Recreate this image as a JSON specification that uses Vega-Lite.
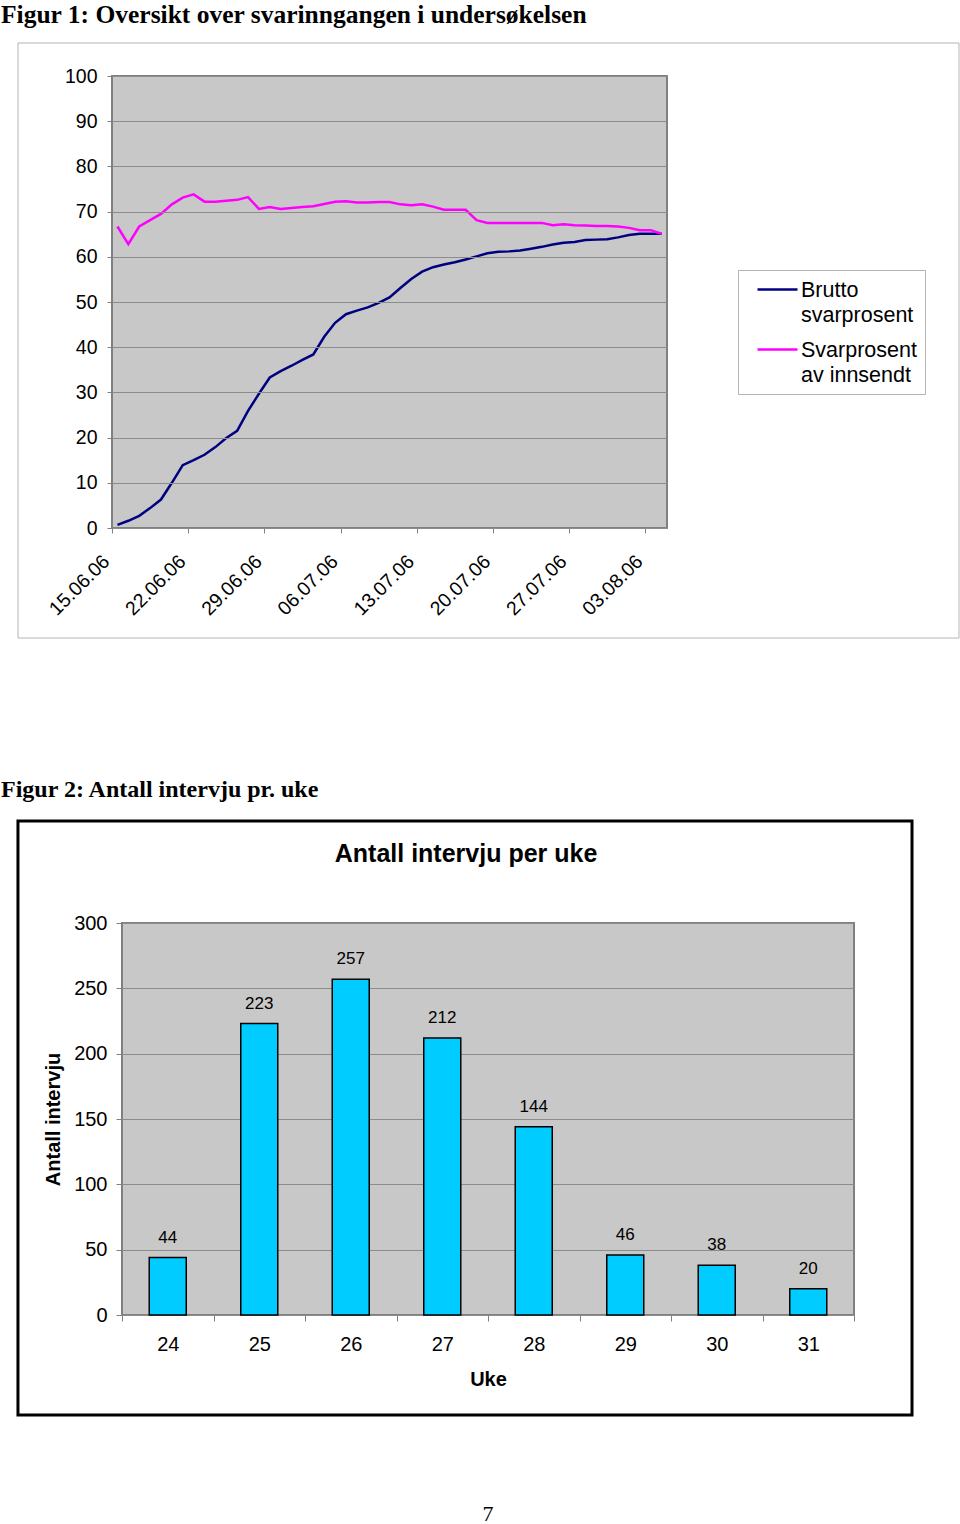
{
  "$schema": "https://vega.github.io/schema/vega-lite/v6.json",
  "background": "white",
  "padding": {"left": 0, "top": 3, "right": 0, "bottom": 0},
  "spacing": 137,
  "config": {
    "font": "Liberation Sans",
    "axis": {"labelColor": "black", "titleColor": "black", "tickColor": "#808080", "domain": false, "gridColor": "#8c8c8c", "gridOpacity": 1, "gridWidth": 1, "labelFont": "Liberation Sans", "titleFont": "Liberation Sans"},
    "legend": {"labelFont": "Liberation Sans"}
  },
  "vconcat": [
    {
      "title": {"text": "Figur 1: Oversikt over svarinngangen i undersøkelsen", "anchor": "start", "frame": "group", "dx": -121, "offset": 14, "font": "Liberation Serif", "fontSize": 25.5, "fontWeight": "bold", "color": "black"},
      "width": 545,
      "height": 452,
      "view": {"fill": null, "stroke": null},
      "layer": [
        {
          "data": {"values": [{}]},
          "mark": {"type": "rect", "fill": "#c8c8c8", "stroke": "#808080", "strokeWidth": 2},
          "encoding": {
            "x": {"datum": {"year": 2006, "month": 6, "date": 15}, "type": "temporal", "scale": {"domain": [{"year": 2006, "month": 6, "date": 15}, {"year": 2006, "month": 8, "date": 5}], "nice": false, "range": [-10, 545], "padding": 0}},
            "x2": {"datum": {"year": 2006, "month": 8, "date": 5}},
            "y": {"datum": 0, "type": "quantitative", "scale": {"domain": [0, 100], "nice": false, "zero": false, "padding": 0}},
            "y2": {"datum": 100}
          }
        },
        {
          "data": {"values": [
            {"dato": "2006-06-15T12:00:00", "Brutto svarprosent": 0.7, "Svarprosent av innsendt": 66.7},
            {"dato": "2006-06-16T12:00:00", "Brutto svarprosent": 1.6, "Svarprosent av innsendt": 62.8},
            {"dato": "2006-06-17T12:00:00", "Brutto svarprosent": 2.7, "Svarprosent av innsendt": 66.7},
            {"dato": "2006-06-18T12:00:00", "Brutto svarprosent": 4.4, "Svarprosent av innsendt": 68.1},
            {"dato": "2006-06-19T12:00:00", "Brutto svarprosent": 6.3, "Svarprosent av innsendt": 69.5},
            {"dato": "2006-06-20T12:00:00", "Brutto svarprosent": 10.0, "Svarprosent av innsendt": 71.6},
            {"dato": "2006-06-21T12:00:00", "Brutto svarprosent": 13.9, "Svarprosent av innsendt": 73.1},
            {"dato": "2006-06-22T12:00:00", "Brutto svarprosent": 15.0, "Svarprosent av innsendt": 73.8},
            {"dato": "2006-06-23T12:00:00", "Brutto svarprosent": 16.2, "Svarprosent av innsendt": 72.2},
            {"dato": "2006-06-24T12:00:00", "Brutto svarprosent": 17.9, "Svarprosent av innsendt": 72.2},
            {"dato": "2006-06-25T12:00:00", "Brutto svarprosent": 19.9, "Svarprosent av innsendt": 72.4},
            {"dato": "2006-06-26T12:00:00", "Brutto svarprosent": 21.5, "Svarprosent av innsendt": 72.6},
            {"dato": "2006-06-27T12:00:00", "Brutto svarprosent": 25.9, "Svarprosent av innsendt": 73.2},
            {"dato": "2006-06-28T12:00:00", "Brutto svarprosent": 29.7, "Svarprosent av innsendt": 70.6},
            {"dato": "2006-06-29T12:00:00", "Brutto svarprosent": 33.3, "Svarprosent av innsendt": 71.0},
            {"dato": "2006-06-30T12:00:00", "Brutto svarprosent": 34.7, "Svarprosent av innsendt": 70.6},
            {"dato": "2006-07-01T12:00:00", "Brutto svarprosent": 35.9, "Svarprosent av innsendt": 70.8},
            {"dato": "2006-07-02T12:00:00", "Brutto svarprosent": 37.2, "Svarprosent av innsendt": 71.0},
            {"dato": "2006-07-03T12:00:00", "Brutto svarprosent": 38.4, "Svarprosent av innsendt": 71.2},
            {"dato": "2006-07-04T12:00:00", "Brutto svarprosent": 42.3, "Svarprosent av innsendt": 71.7},
            {"dato": "2006-07-05T12:00:00", "Brutto svarprosent": 45.4, "Svarprosent av innsendt": 72.2},
            {"dato": "2006-07-06T12:00:00", "Brutto svarprosent": 47.3, "Svarprosent av innsendt": 72.3},
            {"dato": "2006-07-07T12:00:00", "Brutto svarprosent": 48.1, "Svarprosent av innsendt": 72.0},
            {"dato": "2006-07-08T12:00:00", "Brutto svarprosent": 48.8, "Svarprosent av innsendt": 72.0},
            {"dato": "2006-07-09T12:00:00", "Brutto svarprosent": 49.8, "Svarprosent av innsendt": 72.1},
            {"dato": "2006-07-10T12:00:00", "Brutto svarprosent": 51.0, "Svarprosent av innsendt": 72.1},
            {"dato": "2006-07-11T12:00:00", "Brutto svarprosent": 53.1, "Svarprosent av innsendt": 71.6},
            {"dato": "2006-07-12T12:00:00", "Brutto svarprosent": 55.1, "Svarprosent av innsendt": 71.4},
            {"dato": "2006-07-13T12:00:00", "Brutto svarprosent": 56.7, "Svarprosent av innsendt": 71.6},
            {"dato": "2006-07-14T12:00:00", "Brutto svarprosent": 57.7, "Svarprosent av innsendt": 71.1},
            {"dato": "2006-07-15T12:00:00", "Brutto svarprosent": 58.3, "Svarprosent av innsendt": 70.4},
            {"dato": "2006-07-16T12:00:00", "Brutto svarprosent": 58.8, "Svarprosent av innsendt": 70.4},
            {"dato": "2006-07-17T12:00:00", "Brutto svarprosent": 59.4, "Svarprosent av innsendt": 70.4},
            {"dato": "2006-07-18T12:00:00", "Brutto svarprosent": 60.1, "Svarprosent av innsendt": 68.1},
            {"dato": "2006-07-19T12:00:00", "Brutto svarprosent": 60.8, "Svarprosent av innsendt": 67.5},
            {"dato": "2006-07-20T12:00:00", "Brutto svarprosent": 61.1, "Svarprosent av innsendt": 67.5},
            {"dato": "2006-07-21T12:00:00", "Brutto svarprosent": 61.2, "Svarprosent av innsendt": 67.5},
            {"dato": "2006-07-22T12:00:00", "Brutto svarprosent": 61.4, "Svarprosent av innsendt": 67.5},
            {"dato": "2006-07-23T12:00:00", "Brutto svarprosent": 61.8, "Svarprosent av innsendt": 67.5},
            {"dato": "2006-07-24T12:00:00", "Brutto svarprosent": 62.2, "Svarprosent av innsendt": 67.5},
            {"dato": "2006-07-25T12:00:00", "Brutto svarprosent": 62.7, "Svarprosent av innsendt": 67.0},
            {"dato": "2006-07-26T12:00:00", "Brutto svarprosent": 63.1, "Svarprosent av innsendt": 67.2},
            {"dato": "2006-07-27T12:00:00", "Brutto svarprosent": 63.3, "Svarprosent av innsendt": 67.0},
            {"dato": "2006-07-28T12:00:00", "Brutto svarprosent": 63.7, "Svarprosent av innsendt": 66.9},
            {"dato": "2006-07-29T12:00:00", "Brutto svarprosent": 63.8, "Svarprosent av innsendt": 66.8},
            {"dato": "2006-07-30T12:00:00", "Brutto svarprosent": 63.9, "Svarprosent av innsendt": 66.8},
            {"dato": "2006-07-31T12:00:00", "Brutto svarprosent": 64.3, "Svarprosent av innsendt": 66.7},
            {"dato": "2006-08-01T12:00:00", "Brutto svarprosent": 64.8, "Svarprosent av innsendt": 66.4},
            {"dato": "2006-08-02T12:00:00", "Brutto svarprosent": 65.1, "Svarprosent av innsendt": 65.9},
            {"dato": "2006-08-03T12:00:00", "Brutto svarprosent": 65.1, "Svarprosent av innsendt": 65.9},
            {"dato": "2006-08-04T12:00:00", "Brutto svarprosent": 65.1, "Svarprosent av innsendt": 65.1}
          ]},
          "transform": [{"fold": ["Brutto svarprosent", "Svarprosent av innsendt"], "as": ["serie", "prosent"]}],
          "mark": {"type": "line", "strokeWidth": 2.5},
          "encoding": {
            "x": {"field": "dato", "type": "temporal",
              "scale": {"domain": [{"year": 2006, "month": 6, "date": 15}, {"year": 2006, "month": 8, "date": 5}], "nice": false, "range": [-10, 545], "padding": 0},
              "axis": {"title": null, "grid": false, "format": "%d.%m.%y", "formatType": "time",
                "values": [{"year": 2006, "month": 6, "date": 15}, {"year": 2006, "month": 6, "date": 22}, {"year": 2006, "month": 6, "date": 29}, {"year": 2006, "month": 7, "date": 6}, {"year": 2006, "month": 7, "date": 13}, {"year": 2006, "month": 7, "date": 20}, {"year": 2006, "month": 7, "date": 27}, {"year": 2006, "month": 8, "date": 3}],
                "labelAngle": -45, "labelAlign": "right", "labelBaseline": "middle", "labelFontSize": 19.5, "labelPadding": 25, "labelOffset": -6, "tickSize": 5, "tickWidth": 1, "labelOverlap": false, "labelFlush": false}},
            "y": {"field": "prosent", "type": "quantitative",
              "scale": {"domain": [0, 100], "nice": false, "zero": false, "padding": 0},
              "axis": {"title": null, "values": [0, 10, 20, 30, 40, 50, 60, 70, 80, 90, 100], "grid": true, "zindex": 1, "offset": 10, "labelFontSize": 19.5, "tickSize": 5, "labelPadding": 10, "labelFlush": false, "labelOverlap": false}},
            "color": {"field": "serie", "type": "nominal",
              "scale": {"domain": ["Brutto svarprosent", "Svarprosent av innsendt"], "range": ["#000080", "#ff00ff"]},
              "legend": {"title": null, "orient": "none", "legendX": 616, "legendY": 194, "direction": "vertical",
                "symbolType": "M-2,0H2", "symbolSize": 400, "symbolStrokeWidth": 2.5, "symbolOffset": 20,
                "labelFontSize": 21.5, "labelColor": "black", "labelOffset": 12, "labelLimit": 300, "labelBaseline": "top",
                "labelExpr": "datum.label == 'Brutto svarprosent' ? ['Brutto', 'svarprosent'] : ['Svarprosent', 'av innsendt']",
                "strokeColor": "#b4b4b4", "fillColor": "white", "padding": 8, "rowPadding": 12,
                "encode": {"labels": {"update": {"lineHeight": {"value": 25}, "dy": {"value": -10}}}}}}
          }
        },
        {
          "data": {"values": [{}]},
          "mark": {"type": "rect", "fill": "white", "fillOpacity": 0, "stroke": "#b4b4b4", "strokeWidth": 1},
          "encoding": {
            "x": {"datum": {"year": 2006, "month": 6, "date": 6, "hours": 8, "minutes": 41}, "type": "temporal"},
            "x2": {"datum": {"year": 2006, "month": 8, "date": 31, "hours": 19, "minutes": 55}},
            "y": {"datum": 107.3, "type": "quantitative"},
            "y2": {"datum": -24.34}
          }
        }
      ]
    },
    {
      "title": {"text": "Figur 2: Antall intervju pr. uke", "anchor": "start", "frame": "group", "dx": -121, "offset": 18, "font": "Liberation Serif", "fontSize": 24, "fontWeight": "bold", "color": "black"},
      "width": 732,
      "height": 392,
      "view": {"fill": "#c8c8c8", "stroke": "#808080", "strokeWidth": 2},
      "data": {"values": [
        {"uke": 24, "antall": 44},
        {"uke": 25, "antall": 223},
        {"uke": 26, "antall": 257},
        {"uke": 27, "antall": 212},
        {"uke": 28, "antall": 144},
        {"uke": 29, "antall": 46},
        {"uke": 30, "antall": 38},
        {"uke": 31, "antall": 20}
      ]},
      "layer": [
        {
          "mark": {"type": "bar", "size": 37, "fill": "#00ccff", "stroke": "black", "strokeWidth": 1.5},
          "encoding": {
            "x": {"field": "uke", "type": "quantitative", "scale": {"domain": [23.5, 31.5], "nice": false, "zero": false, "padding": 0},
              "axis": {"title": "Uke", "titleFontSize": 20, "titleFontWeight": "bold", "titleY": 64, "titleBaseline": "middle",
                "values": [23.5, 24.5, 25.5, 26.5, 27.5, 28.5, 29.5, 30.5, 31.5],
                "labelExpr": "datum.value < 31 ? format(datum.value + 0.5, 'd') : ''", "labelOffset": 45.75,
                "labelFontSize": 20, "labelAngle": 0, "labelPadding": 13, "tickSize": 6, "grid": false, "labelFlush": false, "labelOverlap": false}},
            "y": {"field": "antall", "type": "quantitative", "scale": {"domain": [0, 300], "nice": false, "zero": false, "padding": 0},
              "axis": {"title": "Antall intervju", "titleFontSize": 20, "titleFontWeight": "bold", "titleX": -69, "titleY": 196, "titleAngle": 270, "titleAlign": "center", "titleBaseline": "middle",
                "values": [0, 50, 100, 150, 200, 250, 300], "grid": true, "labelFontSize": 20, "tickSize": 6, "labelPadding": 9, "labelFlush": false, "labelOverlap": false}}
          }
        },
        {
          "mark": {"type": "text", "dy": -20, "fontSize": 17, "color": "black", "baseline": "middle"},
          "encoding": {
            "x": {"field": "uke", "type": "quantitative"},
            "y": {"field": "antall", "type": "quantitative"},
            "text": {"field": "antall", "type": "quantitative"}
          }
        },
        {
          "data": {"values": [{}]},
          "mark": {"type": "rect", "fill": "white", "fillOpacity": 0, "stroke": "black", "strokeWidth": 3},
          "encoding": {
            "x": {"datum": 22.363, "type": "quantitative"},
            "x2": {"datum": 32.134},
            "y": {"datum": 378.05, "type": "quantitative"},
            "y2": {"datum": -76.53}
          }
        },
        {
          "data": {"values": [{}]},
          "mark": {"type": "text", "fontSize": 25, "fontWeight": "bold", "align": "center", "baseline": "middle", "color": "black"},
          "encoding": {
            "x": {"datum": 27.26, "type": "quantitative"},
            "y": {"datum": 352.8, "type": "quantitative"},
            "text": {"value": "Antall intervju per uke"}
          }
        },
        {
          "data": {"values": [{}]},
          "mark": {"type": "text", "fontSize": 22, "font": "Liberation Serif", "align": "center", "baseline": "middle", "color": "black"},
          "encoding": {
            "x": {"datum": 27.5, "type": "quantitative"},
            "y": {"datum": -152.3, "type": "quantitative"},
            "text": {"value": "7"}
          }
        }
      ]
    }
  ]
}
